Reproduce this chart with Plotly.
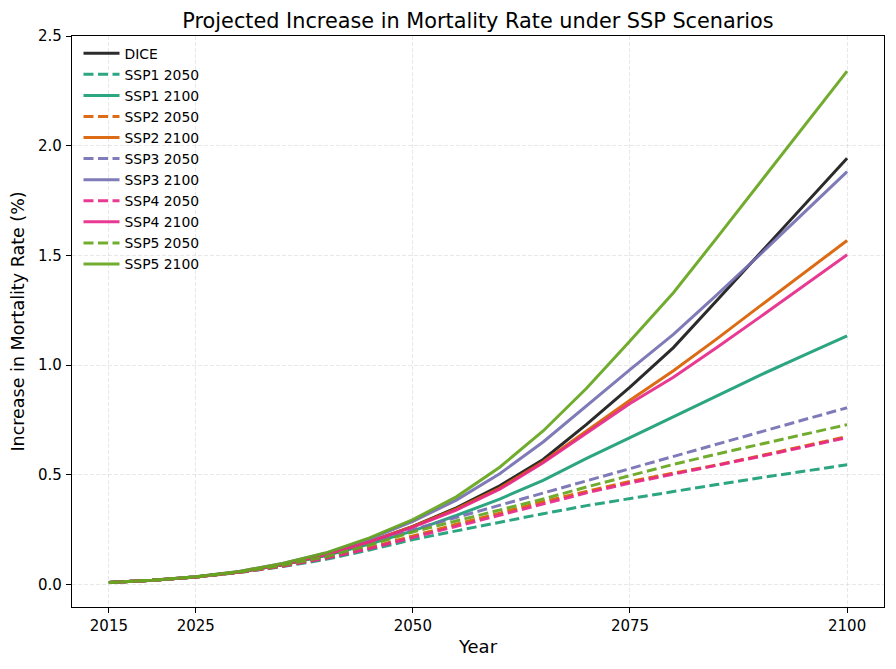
import plotly.graph_objects as go

years = list(range(2015, 2101, 5))

dice = [0.010, 0.020, 0.035, 0.058, 0.090, 0.135, 0.195, 0.265, 0.350, 0.450, 0.570, 0.730, 0.900, 1.080, 1.295, 1.510, 1.725, 1.943]

ssp1_2050 = [0.010, 0.020, 0.035, 0.055, 0.082, 0.115, 0.158, 0.205, 0.245, 0.285, 0.323, 0.360, 0.393, 0.425, 0.456, 0.487, 0.517, 0.546]
ssp1_2100 = [0.010, 0.020, 0.035, 0.058, 0.090, 0.132, 0.185, 0.245, 0.315, 0.390, 0.475, 0.575, 0.670, 0.765, 0.860, 0.955, 1.045, 1.134]
ssp2_2050 = [0.010, 0.020, 0.035, 0.056, 0.085, 0.122, 0.168, 0.222, 0.275, 0.326, 0.378, 0.425, 0.470, 0.508, 0.545, 0.587, 0.630, 0.675]
ssp2_2100 = [0.010, 0.020, 0.035, 0.058, 0.092, 0.137, 0.196, 0.265, 0.345, 0.440, 0.560, 0.700, 0.840, 0.975, 1.120, 1.270, 1.420, 1.568]
ssp3_2050 = [0.010, 0.020, 0.035, 0.057, 0.088, 0.128, 0.182, 0.250, 0.306, 0.362, 0.418, 0.474, 0.530, 0.586, 0.641, 0.696, 0.751, 0.806]
ssp3_2100 = [0.010, 0.020, 0.036, 0.060, 0.096, 0.143, 0.208, 0.288, 0.385, 0.505, 0.650, 0.815, 0.980, 1.140, 1.320, 1.505, 1.693, 1.882]
ssp4_2050 = [0.010, 0.020, 0.035, 0.056, 0.084, 0.120, 0.164, 0.215, 0.267, 0.318, 0.370, 0.418, 0.463, 0.503, 0.542, 0.584, 0.627, 0.670]
ssp4_2100 = [0.010, 0.020, 0.035, 0.058, 0.092, 0.137, 0.195, 0.262, 0.340, 0.435, 0.555, 0.690, 0.825, 0.945, 1.080, 1.220, 1.360, 1.503]
ssp5_2050 = [0.010, 0.020, 0.035, 0.057, 0.088, 0.127, 0.180, 0.240, 0.290, 0.340, 0.390, 0.445, 0.497, 0.548, 0.595, 0.640, 0.685, 0.729]
ssp5_2100 = [0.010, 0.020, 0.036, 0.060, 0.096, 0.145, 0.213, 0.296, 0.400, 0.535, 0.700, 0.895, 1.110, 1.330, 1.580, 1.835, 2.090, 2.340]

x_ticks = [2015, 2025, 2050, 2075, 2100]
y_ticks = [0.0, 0.5, 1.0, 1.5, 2.0, 2.5]
y_tick_labels = ["0.0", "0.5", "1.0", "1.5", "2.0", "2.5"]

series = [
    ("DICE", dice, "#1a1a1a", "solid"),
    ("SSP1 2050", ssp1_2050, "#1b9e77", "dash"),
    ("SSP1 2100", ssp1_2100, "#1b9e77", "solid"),
    ("SSP2 2050", ssp2_2050, "#d95f02", "dash"),
    ("SSP2 2100", ssp2_2100, "#d95f02", "solid"),
    ("SSP3 2050", ssp3_2050, "#7570b3", "dash"),
    ("SSP3 2100", ssp3_2100, "#7570b3", "solid"),
    ("SSP4 2050", ssp4_2050, "#e7298a", "dash"),
    ("SSP4 2100", ssp4_2100, "#e7298a", "solid"),
    ("SSP5 2050", ssp5_2050, "#66a61e", "dash"),
    ("SSP5 2100", ssp5_2100, "#66a61e", "solid"),
]

fig = go.Figure()
for name, vals, color, dash in series:
    fig.add_trace(go.Scatter(
        x=years, y=vals, mode="lines", name=name,
        line=dict(color=color, width=3.0, dash=("10px,4.5px" if dash == "dash" else "solid")),
        opacity=0.92,
    ))

FONT = "DejaVu Sans"
# The page body adds an 8px offset, so the figure is 8px smaller on each axis
W, H = 888, 661
fig.update_layout(
    width=W, height=H,
    paper_bgcolor="white", plot_bgcolor="white",
    margin=dict(l=64, r=12, t=28, b=62),
    font=dict(family=FONT, color="black", size=14),
    title=dict(text="Projected Increase in Mortality Rate under SSP Scenarios",
               x=0.5, xref="paper", y=1 - 13 / H, yref="container",
               xanchor="center", yanchor="middle", automargin=False,
               font=dict(family=FONT, size=20.8, color="black")),
    showlegend=True,
    legend=dict(x=0.008, y=0.997, xanchor="left", yanchor="top",
                bgcolor="rgba(0,0,0,0)", borderwidth=0,
                font=dict(family=FONT, size=13.9, color="black"),
                itemwidth=36, tracegroupgap=0),
)
fig.update_xaxes(
    range=[2010.75, 2104.25], tickmode="array", tickvals=x_ticks,
    ticktext=[str(t) for t in x_ticks], automargin=False,
    showgrid=True, gridcolor="rgba(190,190,190,0.35)", gridwidth=0.8, griddash="4px,2px",
    zeroline=False, showline=True, linecolor="black", linewidth=1.2, mirror=True,
    ticks="outside", ticklen=5, tickwidth=1.2, tickcolor="black",
    tickfont=dict(family=FONT, size=15),
    title=dict(text="Year", font=dict(family=FONT, size=18), standoff=6),
)
fig.update_yaxes(
    range=[-0.102, 2.5], tickmode="array", tickvals=y_ticks, ticktext=y_tick_labels,
    automargin=False,
    showgrid=True, gridcolor="rgba(190,190,190,0.35)", gridwidth=0.8, griddash="4px,2px",
    zeroline=False, showline=True, linecolor="black", linewidth=1.2, mirror=True,
    ticks="outside", ticklen=5, tickwidth=1.2, tickcolor="black",
    tickfont=dict(family=FONT, size=15), ticklabelstandoff=1,
    title=dict(text="Increase in Mortality Rate (%)", font=dict(family=FONT, size=17.5), standoff=10),
)

fig.write_html("out.html")
